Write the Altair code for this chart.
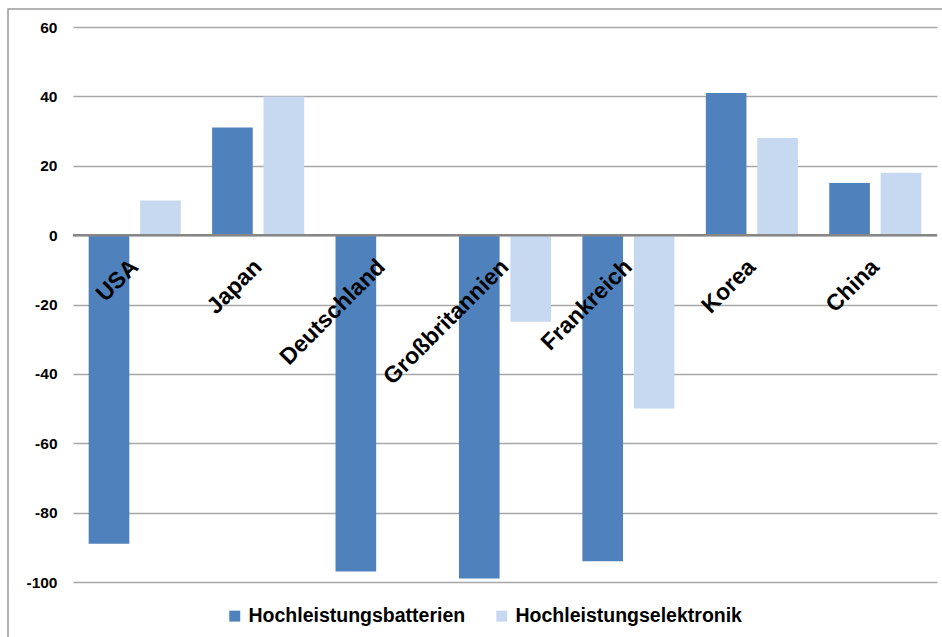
import altair as alt
import pandas as pd

# Country categories and the two series (percent)
countries = ["USA", "Japan", "Deutschland", "Großbritannien", "Frankreich", "Korea", "China"]
batterien = [-89, 31, -97, -99, -94, 41, 15]
elektronik = [10, 40, 0, -25, -50, 28, 18]
series_names = ["Hochleistungsbatterien", "Hochleistungselektronik"]
series_colors = ["#4F81BD", "#C6D9F0"]
y_ticks = [-100, -80, -60, -40, -20, 0, 20, 40, 60]

rows = []
for i, c in enumerate(countries):
    rows.append({"Land": c, "Reihe": series_names[0], "Wert": batterien[i]})
    rows.append({"Land": c, "Reihe": series_names[1], "Wert": elektronik[i]})
df = pd.DataFrame(rows)
labels_df = pd.DataFrame({"Land": countries, "null": [0] * len(countries)})

FONT = "Liberation Sans"
W, H = 864, 555

x_enc = alt.X(
    "Land:N",
    sort=countries,
    scale=alt.Scale(paddingInner=0.254, paddingOuter=0.127),
    axis=None,
)

bars = alt.Chart(df).mark_bar().encode(
    x=x_enc,
    xOffset=alt.XOffset("Reihe:N", sort=series_names, scale=alt.Scale(paddingInner=0.21)),
    y=alt.Y(
        "Wert:Q",
        scale=alt.Scale(domain=[-100, 60], nice=False, zero=False),
        axis=alt.Axis(
            values=y_ticks,
            title=None,
            domain=False,
            ticks=False,
            labelPadding=16,
            labelExpr="toString(datum.value)",
            labelFont=FONT,
            labelFontSize=15.5,
            labelFontWeight="bold",
            labelColor="#000000",
            grid=True,
            gridColor="#a8a8a8",
            gridWidth=1.5,
        ),
    ),
    color=alt.Color(
        "Reihe:N",
        sort=series_names,
        scale=alt.Scale(domain=series_names, range=series_colors),
        legend=alt.Legend(
            title=None,
            orient="none",
            direction="horizontal",
            legendX=152,
            legendY=579,
            symbolType="square",
            symbolSize=120,
            symbolStrokeWidth=0,
            labelFont=FONT,
            labelFontSize=19.5,
            labelFontWeight="bold",
            labelColor="#000000",
            labelLimit=0,
            labelOffset=4,
            columnPadding=26,
        ),
    ),
)

# Darker zero line
zero_line = alt.Chart(labels_df.head(1)).mark_rule(color="#868686", strokeWidth=2.5).encode(
    y=alt.Y("null:Q"),
)

# Rotated category labels sitting just below the zero line
cat_labels = alt.Chart(labels_df).mark_text(
    angle=315,
    align="right",
    baseline="alphabetic",
    dx=-20,
    dy=27,
    font=FONT,
    fontSize=23,
    fontWeight="bold",
    color="#000000",
).encode(
    x=alt.X("Land:N", sort=countries),
    y=alt.Y("null:Q"),
    text="Land:N",
)

# Outer frame around the whole chart
frame = alt.Chart(pd.DataFrame({"k": [0]})).mark_rect(
    fillOpacity=0, stroke="#9a9a9a", strokeWidth=1.5, clip=False
).encode(
    x=alt.value(-65),
    y=alt.value(-18),
    x2=alt.value(W + 40),
    y2=alt.value(H + 80),
)

chart = (
    alt.layer(frame, bars, zero_line, cat_labels)
    .resolve_scale(x="shared")
    .properties(
        width=W,
        height=H,
        autosize=alt.AutoSizeParams(type="none"),
        padding={"left": 73, "top": 27, "right": 5, "bottom": 55},
        background="#ffffff",
    )
    .configure_view(stroke=None)
)

chart.save("out.html", embed_options={"renderer": "svg", "actions": False})
